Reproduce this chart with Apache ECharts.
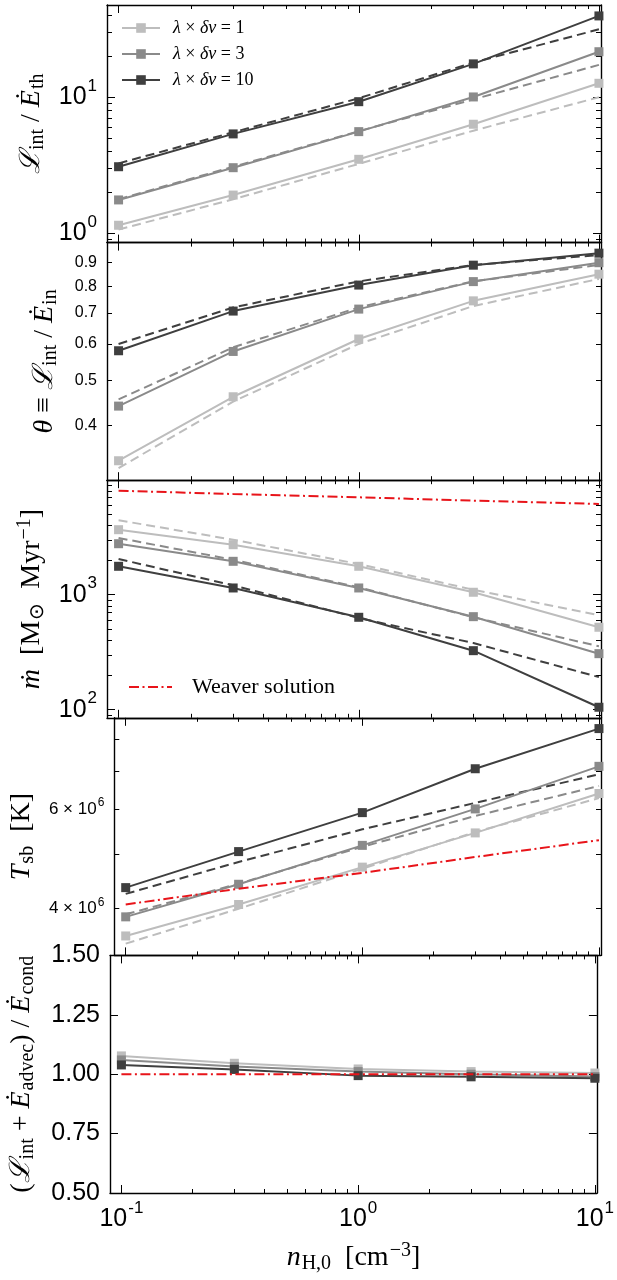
<!DOCTYPE html>
<html><head><meta charset="utf-8">
<script src="https://cdn.jsdelivr.net/npm/echarts@6/dist/echarts.min.js"></script>
<style>html,body{margin:0;padding:0;background:#fff}#c{width:617px;height:1280px}</style>
</head><body><div id="c"></div>
<script>
// ---------------- data ----------------
const nH = [0.1, 0.3, 1, 3, 10];
const groupNames = ['λ×δv=1', 'λ×δv=3', 'λ×δv=10'];
const groupValues = ['1', '3', '10'];

// panel 1: L_int / E_th
const lint_sim_1 = [1.14, 1.90, 3.48, 6.3, 12.6];
const lint_sim_3 = [1.75, 3.02, 5.56, 10.0, 21.5];
const lint_sim_10 = [3.07, 5.35, 9.23, 17.5, 39.4];
const lint_mod_1 = [1.06, 1.77, 3.22, 5.65, 9.95];
const lint_mod_3 = [1.77, 3.07, 5.6, 9.6, 17.2];
const lint_mod_10 = [3.25, 5.5, 9.78, 17.9, 31.4];

// panel 2: theta
const theta_sim_1 = [0.335, 0.461, 0.615, 0.744, 0.85];
const theta_sim_3 = [0.44, 0.578, 0.714, 0.819, 0.90];
const theta_sim_10 = [0.58, 0.707, 0.805, 0.889, 0.944];
const theta_mod_1 = [0.323, 0.45, 0.60, 0.725, 0.83];
const theta_mod_3 = [0.455, 0.59, 0.72, 0.82, 0.89];
const theta_mod_10 = [0.60, 0.72, 0.82, 0.89, 0.935];

// panel 3: mdot
const mdot_sim_1 = [3675, 2720, 1766, 1050, 521];
const mdot_sim_3 = [2775, 1951, 1144, 644, 307];
const mdot_sim_10 = [1766, 1144, 636, 326, 105];
const mdot_mod_1 = [4436, 3008, 1849, 1105, 662];
const mdot_mod_3 = [3112, 2015, 1160, 636, 356];
const mdot_mod_10 = [2043, 1207, 627, 380, 192];
const mdot_weaver = [8020, 7510, 7030, 6570, 6150];

// panel 4: T_sb
const T_sim_1 = [3.58e6, 4.07e6, 4.74e6, 5.45e6, 6.40e6];
const T_sim_3 = [3.87e6, 4.42e6, 5.18e6, 6.01e6, 7.15e6];
const T_sim_10 = [4.36e6, 5.05e6, 5.92e6, 7.08e6, 8.34e6];
const T_mod_1 = [3.47e6, 4.0e6, 4.71e6, 5.47e6, 6.28e6];
const T_mod_3 = [3.91e6, 4.43e6, 5.15e6, 5.84e6, 6.6e6];
const T_mod_10 = [4.25e6, 4.84e6, 5.53e6, 6.16e6, 6.92e6];
const T_weaver = [4.07e6, 4.34e6, 4.63e6, 4.94e6, 5.29e6];

// panel 5: (L_int + E_advec)/E_cond
const ratio_sim_1 = [1.077, 1.046, 1.022, 1.011, 1.005];
const ratio_sim_3 = [1.06, 1.032, 1.011, 1.0, 0.99];
const ratio_sim_10 = [1.039, 1.02, 0.994, 0.989, 0.983];
const ratio_weaver = [1, 1, 1, 1, 1];

// ticks
const xMajor = [0.1, 1, 10];
const xMinor = [0.2, 0.3, 0.4, 0.5, 0.6, 0.7, 0.8, 0.9, 2, 3, 4, 5, 6, 7, 8, 9];
const y1Major = [1, 10];
const y1Minor = [0.9, 2, 3, 4, 5, 6, 7, 8, 9, 20, 30, 40];
const y2Minor = [0.4, 0.5, 0.6, 0.7, 0.8, 0.9];
const y3Major = [100, 1000];
const y3Minor = [90, 200, 300, 400, 500, 600, 700, 800, 900, 2000, 3000, 4000, 5000, 6000, 7000, 8000, 9000];
const y4Minor = [4e6, 5e6, 6e6, 7e6, 8e6];
const y4Labels = [4e6, 6e6];
const y5Major = [0.5, 0.75, 1.0, 1.25, 1.5];

// ---------------- style ----------------
const SANS = "'Liberation Sans', Arial, sans-serif";
const SERIF = "'Liberation Serif', 'Times New Roman', serif";
const GRAYS = ['#bdbdbd', '#8a8a8a', '#3f3f3f'];
const RED = '#e8141a';
const FRAME = {color: '#000', width: 1.4};
const TICK = {color: '#000', width: 1};
const X_MIN = 0.0895, X_MAX = 10.2;
const GRID_LEFT = 107, GRID_RIGHT = 16, TOP0 = 5, PH = 237.6;

const powRich = {
  b: {fontSize: 25, fontFamily: SANS, color: '#000'},
  s: {fontSize: 17, fontFamily: SANS, color: '#000', padding: [0, 0, 22, 1]}
};
function powLabel(v) {
  const e = Math.round(Math.log10(v));
  return '{b|10}{s|' + (e < 0 ? '-' : '') + Math.abs(e) + '}';
}
const sciRich = {
  b: {fontSize: 17, fontFamily: SANS, color: '#000'},
  s: {fontSize: 12, fontFamily: SANS, color: '#000', padding: [0, 0, 13, 1]}
};
function sciLabel(v) {
  const e = Math.floor(Math.log10(v) + 1e-9);
  const m = Math.round(v / Math.pow(10, e));
  return '{b|' + m + ' × 10}{s|' + e + '}';
}
const nameRich = {
  it: {fontFamily: SERIF, fontStyle: 'italic', fontSize: 28, color: '#000'},
  r: {fontFamily: SERIF, fontSize: 28, color: '#000'},
  sub: {fontFamily: SERIF, fontSize: 20, color: '#000', padding: [12, 0, 0, 1]},
  sup: {fontFamily: SERIF, fontSize: 20, color: '#000', padding: [0, 0, 14, 1]}
};

const yNames = [
  '{it|ℒ}{sub|int}{r| / }{it|Ė}{sub|th}',
  '{it|θ}{r| ≡ }{it|ℒ}{sub|int}{r| / }{it|Ė}{sub|in}',
  '{it|ṁ}{r|  [M}{sub|⊙}{r|  Myr}{sup|−1}{r|]}',
  '{it|T}{sub|sb}{r|  [K]}',
  '{r|(}{it|ℒ}{sub|int}{r| + }{it|Ė}{sub|advec}{r|) / }{it|Ė}{sub|cond}'
];
const xName = '{it|n}{sub|H,0}{r|  [cm}{sup|−3}{r|]}';

const yCfg = [
  {type: 'log', min: 0.85, max: 47.4, major: y1Major, minor: y1Minor, labels: y1Major, fmt: powLabel, rich: powRich, gap: 46},
  {type: 'log', min: 0.304, max: 0.995, major: [], minor: y2Minor, labels: y2Minor, fmt: v => v.toFixed(1), rich: null, fs: 16, gap: 46},
  {type: 'log', min: 85, max: 9900, major: y3Major, minor: y3Minor, labels: y3Major, fmt: powLabel, rich: powRich, gap: 46},
  {type: 'log', min: 3.307e6, max: 8.715e6, major: [], minor: y4Minor, labels: y4Labels, fmt: sciLabel, rich: sciRich, gap: 62},
  {type: 'value', min: 0.5, max: 1.5, major: y5Major, minor: [], labels: y5Major, fmt: v => v.toFixed(2), rich: null, fs: 25, gap: 72}
];

const panels = [
  {sim: [lint_sim_1, lint_sim_3, lint_sim_10], mod: [lint_mod_1, lint_mod_3, lint_mod_10], weaver: null},
  {sim: [theta_sim_1, theta_sim_3, theta_sim_10], mod: [theta_mod_1, theta_mod_3, theta_mod_10], weaver: null},
  {sim: [mdot_sim_1, mdot_sim_3, mdot_sim_10], mod: [mdot_mod_1, mdot_mod_3, mdot_mod_10], weaver: mdot_weaver},
  {sim: [T_sim_1, T_sim_3, T_sim_10], mod: [T_mod_1, T_mod_3, T_mod_10], weaver: T_weaver},
  {sim: [ratio_sim_1, ratio_sim_3, ratio_sim_10], mod: null, weaver: ratio_weaver}
];

// ---------------- build ----------------
const grids = [], xAxes = [], yAxes = [], series = [];
const NPAN = 5;
for (let g = 0; g < NPAN; g++) {
  grids.push({left: GRID_LEFT, right: GRID_RIGHT, top: TOP0 + g * PH, height: PH, containLabel: false});
  const last = g === NPAN - 1;
  const xb = {gridIndex: g, type: 'log', min: X_MIN, max: X_MAX, splitLine: {show: false},
    minorTick: {show: false}, minorSplitLine: {show: false}, axisPointer: {show: false}};
  ['bottom', 'top'].forEach(pos => {
    xAxes.push(Object.assign({}, xb, {
      position: pos,
      axisLine: {show: true, onZero: false, lineStyle: FRAME},
      axisTick: {show: true, inside: true, length: 8, customValues: xMajor, lineStyle: TICK},
      axisLabel: (last && pos === 'bottom') ? {show: true, customValues: xMajor, formatter: powLabel, rich: powRich, margin: 7} : {show: false},
      name: (last && pos === 'bottom') ? xName : '',
      nameLocation: 'middle', nameGap: 48,
      nameTextStyle: {rich: nameRich}
    }));
    xAxes.push(Object.assign({}, xb, {
      position: pos,
      axisLine: {show: false},
      axisTick: {show: true, inside: true, length: 4, customValues: xMinor, lineStyle: TICK},
      axisLabel: {show: false}
    }));
  });
  const c = yCfg[g];
  const yb = {gridIndex: g, type: c.type, min: c.min, max: c.max, splitLine: {show: false},
    minorTick: {show: false}, minorSplitLine: {show: false}, axisPointer: {show: false}};
  if (c.type === 'value') yb.interval = 0.25;
  ['left', 'right'].forEach(pos => {
    const lab = {show: pos === 'left', customValues: c.labels, formatter: c.fmt, margin: 10,
      fontFamily: SANS, color: '#000', fontSize: c.fs || 24};
    if (c.rich) lab.rich = c.rich;
    yAxes.push(Object.assign({}, yb, {
      position: pos,
      axisLine: {show: true, onZero: false, lineStyle: FRAME},
      axisTick: c.major.length ? {show: true, inside: true, length: 8, customValues: c.major, lineStyle: TICK} : {show: false},
      axisLabel: pos === 'left' ? lab : {show: false},
      name: pos === 'left' ? yNames[g] : '',
      nameLocation: 'middle', nameRotate: 90, nameGap: c.gap,
      nameTextStyle: {rich: nameRich}
    }));
    yAxes.push(Object.assign({}, yb, {
      position: pos,
      axisLine: {show: false},
      axisTick: c.minor.length ? {show: true, inside: true, length: 5, customValues: c.minor, lineStyle: TICK} : {show: false},
      axisLabel: {show: false}
    }));
  });
  const xi = 4 * g, yi = 4 * g;
  const p = panels[g];
  if (p.mod) {
    p.mod.forEach((arr, k) => series.push({
      name: 'model ' + groupNames[k], type: 'line', xAxisIndex: xi, yAxisIndex: yi,
      data: nH.map((x, i) => [x, arr[i]]), symbol: 'none', z: 2,
      lineStyle: {color: GRAYS[k], width: 2, type: [9, 5]}, itemStyle: {color: GRAYS[k]}
    }));
  }
  p.sim.forEach((arr, k) => series.push({
    name: groupNames[k], type: 'line', xAxisIndex: xi, yAxisIndex: yi,
    data: nH.map((x, i) => [x, arr[i]]), symbol: 'rect', symbolSize: 9, showSymbol: true, z: 3,
    lineStyle: {color: GRAYS[k], width: 2}, itemStyle: {color: GRAYS[k]}
  }));
  if (p.weaver) {
    series.push({
      name: 'Weaver solution', type: 'line', xAxisIndex: xi, yAxisIndex: yi,
      data: nH.map((x, i) => [x, p.weaver[i]]), symbol: 'none', z: 4,
      lineStyle: {color: RED, width: 2, type: [10, 3.5, 2, 3.5]}, itemStyle: {color: RED}
    });
  }
}

const legendRich = {
  i: {fontFamily: SERIF, fontStyle: 'italic', fontSize: 18, color: '#000', lineHeight: 20},
  r: {fontFamily: SERIF, fontSize: 18, color: '#000', lineHeight: 20}
};

const option = {
  animation: false,
  backgroundColor: '#fff',
  grid: grids,
  xAxis: xAxes,
  yAxis: yAxes,
  legend: [
    {data: groupNames, orient: 'vertical', left: 121, top: 18, padding: 0,
      itemWidth: 38, itemHeight: 12, itemGap: 6, selectedMode: false,
      formatter: n => '{i|λ}{r| × }{i|δv}{r| = ' + groupValues[groupNames.indexOf(n)] + '}',
      textStyle: {lineHeight: 20, padding: [0, 0, 0, 8], rich: legendRich}},
    {data: ['Weaver solution'], orient: 'vertical', left: 128, top: 676, padding: 0,
      itemWidth: 43, itemHeight: 12, selectedMode: false,
      itemStyle: {opacity: 0},
      textStyle: {fontFamily: SERIF, fontSize: 22, color: '#000', lineHeight: 20, padding: [0, 0, 0, 15]}}
  ],
  series: series
};

const chart = echarts.init(document.getElementById('c'), null, {renderer: 'canvas'});
chart.setOption(option);
</script>
</body></html>
